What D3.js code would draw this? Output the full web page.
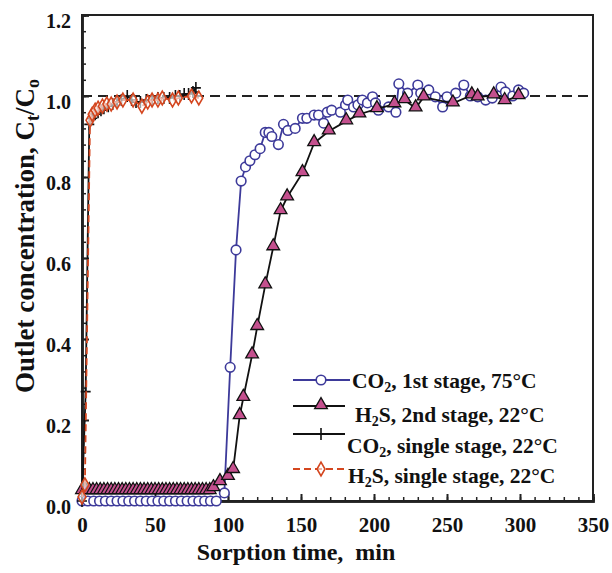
<!DOCTYPE html>
<meta charset="utf-8">
<style>
  body { margin: 0; background: #fff; }
  text { font-family: "Liberation Serif", "Times New Roman", serif; font-weight: bold; fill: #111; }
  .frame { fill: none; stroke: #222; stroke-width: 2; }
</style>
<svg width="612" height="573"></svg>
<script src="https://d3js.org/d3.v7.min.js"></script>
<script>
// ---- data ----
var xTicks = [0, 50, 100, 150, 200, 250, 300, 350];
var yTicks = [0.0, 0.2, 0.4, 0.6, 0.8, 1.0, 1.2];

// CO2, 1st stage, 75C (open blue circles)
var co2Stage1 = [
  [0,0],[4,0],[8,0],[12,0],[16,0],[20,0],[24,0],[28,0],[32,0],[36,0],[40,0],[44,0],
  [48,0],[52,0],[56,0],[60,0],[64,0],[68,0],[72,0],[76,0],[80,0],[84,0],[88,0],[92,0],
  [97.5,0.02],[101.5,0.33],[105.5,0.62],[109,0.79],[112,0.825],[115,0.84],[118.5,0.855],
  [122,0.87],[125.5,0.91],[128,0.91],[130,0.90],[134.5,0.88],[138,0.93],[141,0.915],
  [146,0.92],[151,0.945],[154,0.945],[159,0.953],[162,0.953],[165.5,0.933],[168,0.96],
  [171,0.965],[177,0.96],[180.5,0.978],[182,0.99],[186,0.973],[189,0.978],[192,0.99],
  [195.5,0.983],[199,0.998],[201,0.983],[203,0.965],[210,0.973],[215,0.96],[217,1.03],
  [223,1.007],[230,1.027],[232,1.007],[237.5,1.015],[242,0.998],[247,0.973],[250,0.998],
  [256,1.007],[261.5,1.027],[266,1.0],[271,0.998],[276.5,0.99],[281,0.995],[287,1.022],
  [290,1.01],[295,1.0],[299,1.015],[302.5,1.007]
];

// H2S, 2nd stage, 22C (pink triangles)
var h2sStage2 = [
  [0,0.025],[2.5,0.025],[5,0.025],[7.5,0.025],[10,0.025],[12.5,0.025],[15,0.025],[17.5,0.025],
  [20,0.025],[22.5,0.025],[25,0.025],[27.5,0.025],[30,0.025],[32.5,0.025],[35,0.025],[37.5,0.025],
  [40,0.025],[42.5,0.025],[45,0.025],[47.5,0.025],[50,0.025],[52.5,0.025],[55,0.025],[57.5,0.025],
  [60,0.025],[62.5,0.025],[65,0.025],[67.5,0.025],[70,0.025],[72.5,0.025],[75,0.025],[77.5,0.025],
  [80,0.025],[82.5,0.025],[85,0.025],[87.5,0.025],
  [90,0.032],[94.5,0.047],[100,0.06],[103.5,0.077],[108,0.21],[110.5,0.255],[116.5,0.36],
  [120,0.43],[125.5,0.533],[131,0.627],[136,0.716],[140.5,0.75],[151,0.81],[159,0.884],
  [169,0.913],[181,0.938],[190,0.955],[202,0.968],[214,0.98],[221,0.99],[228.5,0.97],
  [234,0.997],[254,0.982],[267,1.002],[271,0.997],[282,1.002],[289.5,0.988],[299,1.0]
];

// CO2, single stage, 22C (black plus)
var co2Single = [
  [0,0],[2.5,0.27],[5,0.93],[7,0.945],[9,0.955],[11,0.96],[13,0.965],[15,0.97],[18,0.975],
  [21,0.98],[24,0.985],[27,0.99],[31,1.0],[34,0.99],[37,0.985],[40,0.985],[44,0.99],[48,0.99],
  [52,0.995],[56,0.995],[60,0.995],[64,1.0],[67,1.0],[70,1.005],[73,1.005],[76,1.01],[78,1.02]
];

// H2S, single stage, 22C (red diamonds, dashed)
var h2sSingle = [
  [0,0.01],[2,0.04],[5.5,0.94],[7,0.955],[9,0.965],[11,0.97],[14,0.975],[17,0.98],[20,0.98],
  [24,0.985],[28,0.99],[35,0.99],[41,0.975],[45,0.985],[48,0.99],[52,0.99],[55,0.995],
  [62,0.99],[66,0.995],[75,1.0],[80,0.995]
];

var legendNames = [
  ["CO", "2", ", 1st stage, 75°C"],
  ["H", "2", "S, 2nd stage, 22°C"],
  ["CO", "2", ", single stage, 22°C"],
  ["H", "2", "S, single stage, 22°C"]
];

var blue = "#3d3a9a", pink = "#c4508e", red = "#d4461f";

var svg = d3.select("svg");
var x = d3.scaleLinear().domain([0, 350]).range([82, 593]);
var y = d3.scaleLinear().domain([0, 1.2]).range([501, 15]);

// frame
svg.append("rect").attr("class", "frame")
  .attr("x", x(0)).attr("y", y(1.2))
  .attr("width", x(350) - x(0)).attr("height", y(0) - y(1.2));

// axes with inward ticks
var xMinor = d3.range(0, 351, 10), yMinor = d3.range(0, 1.2001, 0.04);
var gx = svg.append("g").attr("transform", "translate(0," + y(0) + ")");
gx.call(d3.axisBottom(x).tickValues(xMinor).tickSize(-4).tickFormat(""));
gx.selectAll(".tick line").attr("stroke", "#222").attr("stroke-width", 1.5);
var gx2 = svg.append("g").attr("transform", "translate(0," + y(0) + ")");
gx2.call(d3.axisBottom(x).tickValues(xTicks).tickSize(-7).tickPadding(16).tickFormat(d3.format("d")));
gx2.selectAll(".tick line").attr("stroke", "#222").attr("stroke-width", 2);
gx2.selectAll(".tick text").style("font-size", "21px").attr("fill", "#111");

var gy = svg.append("g").attr("transform", "translate(" + x(0) + ",0)");
gy.call(d3.axisLeft(y).tickValues(yMinor).tickSize(-4).tickFormat(""));
gy.selectAll(".tick line").attr("stroke", "#222").attr("stroke-width", 1.5);
var gy2 = svg.append("g").attr("transform", "translate(" + x(0) + ",0)");
gy2.call(d3.axisLeft(y).tickValues(yTicks).tickSize(-7).tickPadding(11).tickFormat(d3.format(".1f")));
gy2.selectAll(".tick line").attr("stroke", "#222").attr("stroke-width", 2);
gy2.selectAll(".tick text").style("font-size", "20px").attr("fill", "#111").attr("dy", "0.6em");
svg.selectAll(".domain").attr("stroke", "#222").attr("stroke-width", 2.5);

// reference line at 1.0
svg.append("line")
  .attr("x1", x(0)).attr("x2", x(350)).attr("y1", y(1)).attr("y2", y(1))
  .attr("stroke", "#222").attr("stroke-width", 2).attr("stroke-dasharray", "10,6");

var line = d3.line().x(d => x(d[0])).y(d => y(d[1]));

var tri = d3.symbol().type(d3.symbolTriangle).size(70);
var dia = d3.symbol().type(d3.symbolDiamond).size(55);

function drawSeries(data, color, dash, marker) {
  svg.append("path").datum(data).attr("d", line)
    .attr("fill", "none").attr("stroke", color).attr("stroke-width", 1.8)
    .attr("stroke-dasharray", dash);
  var g = svg.append("g");
  data.forEach(function(d) { marker(g, x(d[0]), y(d[1])); });
}

function circleMark(g, cx, cy) {
  g.append("circle").attr("cx", cx).attr("cy", cy).attr("r", 4.8)
    .attr("fill", "#fff").attr("stroke", blue).attr("stroke-width", 1.6);
}
function triMark(g, cx, cy) {
  g.append("path").attr("d", tri).attr("transform", "translate(" + cx + "," + (cy - 1) + ")")
    .attr("fill", pink).attr("stroke", "#111").attr("stroke-width", 1.3);
}
function plusMark(g, cx, cy) {
  g.append("path").attr("d", "M" + (cx - 5) + "," + cy + "H" + (cx + 5) + "M" + cx + "," + (cy - 6) + "V" + (cy + 6))
    .attr("stroke", "#111").attr("stroke-width", 1.6);
}
function diaMark(g, cx, cy) {
  g.append("path").attr("d", dia).attr("transform", "translate(" + cx + "," + cy + ")")
    .attr("fill", "#fff").attr("fill-opacity", 0.6).attr("stroke", red).attr("stroke-width", 1.6);
}

drawSeries(co2Stage1, blue, null, circleMark);
drawSeries(h2sStage2, "#111", null, triMark);
drawSeries(co2Single, "#111", null, plusMark);
drawSeries(h2sSingle, red, "7,4", diaMark);

// legend
var legRows = [
  { ly: 380, x2: 350, tx: 352, ty: 388, color: blue, dash: null, mark: circleMark },
  { ly: 406, x2: 345, tx: 355, ty: 422, color: "#111", dash: null, mark: triMark },
  { ly: 434, x2: 345, tx: 347, ty: 453, color: "#111", dash: null, mark: plusMark },
  { ly: 469, x2: 345, tx: 348, ty: 483, color: red, dash: "7,4", mark: diaMark }
];
legRows.forEach(function(r, i) {
  svg.append("line").attr("x1", 293).attr("x2", r.x2).attr("y1", r.ly).attr("y2", r.ly)
    .attr("stroke", r.color).attr("stroke-width", 1.8).attr("stroke-dasharray", r.dash);
  r.mark(svg, 321, r.ly);
  var t = svg.append("text").attr("x", r.tx).attr("y", r.ty).attr("font-size", 21.5);
  t.append("tspan").text(legendNames[i][0]);
  t.append("tspan").attr("font-size", 14).attr("dy", 4).text(legendNames[i][1]);
  t.append("tspan").attr("dy", -4).text(legendNames[i][2]);
});

// axis titles
svg.append("text").attr("x", 296).attr("y", 560).attr("text-anchor", "middle")
  .attr("font-size", 24).style("white-space", "pre").text("Sorption time,  min");

var yt = svg.append("text").attr("transform", "translate(34,236) rotate(-90)")
  .attr("text-anchor", "middle").attr("font-size", 27);
yt.append("tspan").text("Outlet concentration, C");
yt.append("tspan").attr("font-size", 18).attr("dy", 5).text("t");
yt.append("tspan").attr("dy", -5).text("/C");
yt.append("tspan").attr("font-size", 18).attr("dy", 5).text("o");
</script>
